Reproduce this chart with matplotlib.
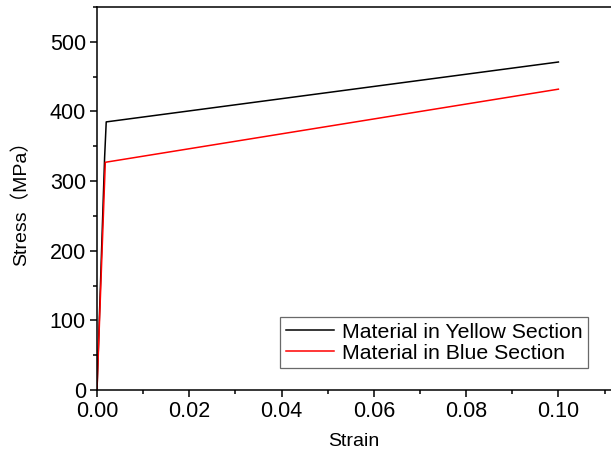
import matplotlib
matplotlib.use("Agg")
import matplotlib.pyplot as plt
from matplotlib.ticker import MultipleLocator

plt.rcParams['font.family'] = ['Liberation Sans', 'Noto Sans CJK SC', 'DejaVu Sans']

# stress-strain curves
yellow_strain = [0.0, 0.00165, 0.0020, 0.1000]
yellow_stress = [0.0, 334.0, 385.0, 471.0]
blue_strain = [0.0, 0.0018, 0.1000]
blue_stress = [0.0, 327.0, 432.0]

fig = plt.figure(figsize=(6.11, 4.53), dpi=100)
ax = fig.add_axes([97 / 611, 1 - 390 / 453, 1 - 97 / 611, 383 / 453])

ax.plot(yellow_strain, yellow_stress, color='black', lw=1.1, label='Material in Yellow Section')
ax.plot(blue_strain, blue_stress, color='red', lw=1.1, label='Material in Blue Section')

ax.set_xlim(0, 0.1114)
ax.set_ylim(0, 550)
ax.xaxis.set_major_locator(MultipleLocator(0.02))
ax.xaxis.set_minor_locator(MultipleLocator(0.01))
ax.yaxis.set_major_locator(MultipleLocator(100))
ax.yaxis.set_minor_locator(MultipleLocator(50))
ax.xaxis.set_major_formatter(plt.FuncFormatter(lambda v, p: '{:.2f}'.format(v)))
ax.tick_params(which='both', direction='out', labelsize=15.5, width=1.1)
ax.tick_params(which='major', length=5, pad=3)
ax.tick_params(which='minor', length=3)
ax.spines['right'].set_visible(False)
for s in ['left', 'bottom', 'top']:
    ax.spines[s].set_linewidth(1.1)

ax.set_xlabel('Strain', fontsize=14, labelpad=8)
ax.set_ylabel('Stress（MPa）', fontsize=14, labelpad=14)

leg = ax.legend(loc='upper right', bbox_to_anchor=(0.955, 0.19), borderaxespad=0,
                fontsize=15.3, frameon=True, fancybox=False, edgecolor='#444444',
                handlelength=2.3, handletextpad=0.35, labelspacing=0.1, borderpad=0.25)
leg.get_frame().set_linewidth(0.9)

fig.savefig('out.png', dpi=100)
